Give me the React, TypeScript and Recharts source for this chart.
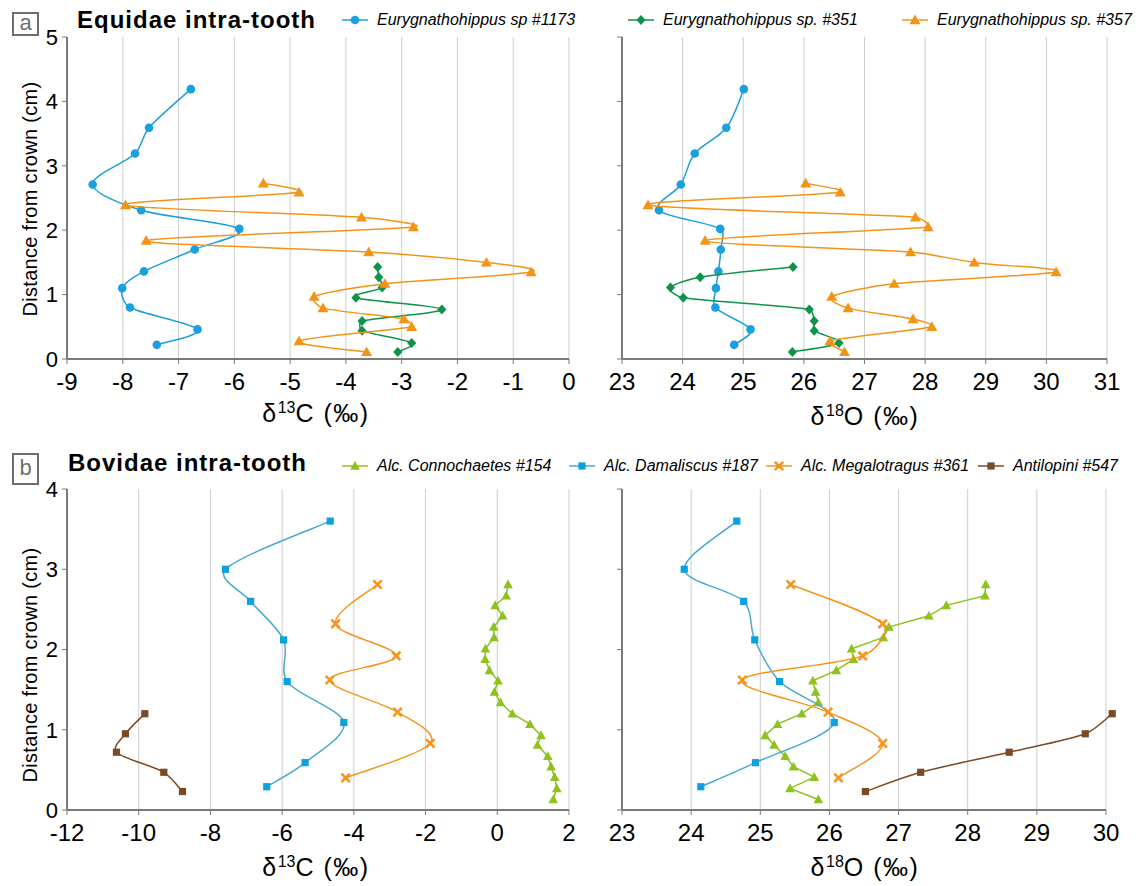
import React from "react";
import { ScatterChart, Scatter, XAxis, YAxis, CartesianGrid } from "recharts";

// Equidae: depth below crown (cm) with d13C and d18O for each sample
const eq1173Depth = [4.19, 3.59, 3.19, 2.71, 2.31, 2.02, 1.7, 1.36, 1.1, 0.8, 0.46, 0.22];
const eq1173C = [-6.78, -7.53, -7.78, -8.54, -7.67, -5.91, -6.71, -7.62, -8.01, -7.87, -6.66, -7.39];
const eq1173O = [25.01, 24.72, 24.2, 23.97, 23.61, 24.62, 24.63, 24.59, 24.55, 24.54, 25.12, 24.85];

const eq351Depth = [1.43, 1.27, 1.11, 0.95, 0.77, 0.59, 0.44, 0.25, 0.11];
const eq351C = [-3.43, -3.41, -3.35, -3.82, -2.28, -3.71, -3.71, -2.82, -3.07];
const eq351O = [25.82, 24.29, 23.8, 24.01, 26.09, 26.17, 26.17, 26.58, 25.81];

const eq357Depth = [2.73, 2.59, 2.39, 2.2, 2.05, 1.84, 1.66, 1.5, 1.35, 1.17, 0.97, 0.79, 0.62, 0.5, 0.28, 0.11];
const eq357C = [-5.48, -4.84, -7.95, -3.72, -2.79, -7.58, -3.59, -1.48, -0.68, -3.3, -4.57, -4.41, -2.96, -2.82, -4.84, -3.63];
const eq357O = [26.03, 26.6, 23.43, 27.84, 28.05, 24.37, 27.76, 28.81, 30.16, 27.49, 26.46, 26.73, 27.8, 28.11, 26.43, 26.67];

// Bovidae
const con154Depth = [2.81, 2.67, 2.55, 2.42, 2.28, 2.15, 2.01, 1.88, 1.74, 1.61, 1.47, 1.34, 1.2, 1.07, 0.93, 0.81, 0.67, 0.54, 0.41, 0.27, 0.13];
const con154C = [0.3, 0.25, -0.06, 0.15, -0.1, -0.09, -0.33, -0.34, -0.22, 0.02, -0.08, 0.09, 0.42, 0.91, 1.22, 1.12, 1.41, 1.5, 1.6, 1.66, 1.56];
const con154O = [28.26, 28.25, 27.69, 27.44, 26.86, 26.78, 26.32, 26.35, 26.1, 25.76, 25.8, 25.84, 25.6, 25.25, 25.07, 25.2, 25.36, 25.48, 25.78, 25.43, 25.84];

const dam187Depth = [3.6, 3.0, 2.6, 2.12, 1.6, 1.09, 0.59, 0.29];
const dam187C = [-4.66, -7.58, -6.88, -5.96, -5.86, -4.28, -5.36, -6.43];
const dam187O = [24.66, 23.9, 24.76, 24.92, 25.28, 26.07, 24.93, 24.14];

const meg361Depth = [2.81, 2.32, 1.92, 1.62, 1.22, 0.83, 0.4];
const meg361C = [-3.34, -4.51, -2.82, -4.67, -2.78, -1.87, -4.23];
const meg361O = [25.44, 26.77, 26.48, 24.74, 25.98, 26.77, 26.13];

const ant547Depth = [1.2, 0.95, 0.72, 0.47, 0.23];
const ant547C = [-9.83, -10.37, -10.62, -9.3, -8.78];
const ant547O = [30.09, 29.7, 28.6, 27.32, 26.52];

const equidaeTicksC = [-9, -8, -7, -6, -5, -4, -3, -2, -1, 0];
const equidaeTicksO = [23, 24, 25, 26, 27, 28, 29, 30, 31];
const equidaeTicksY = [0, 1, 2, 3, 4, 5];
const bovidaeTicksC = [-12, -10, -8, -6, -4, -2, 0, 2];
const bovidaeTicksO = [23, 24, 25, 26, 27, 28, 29, 30];
const bovidaeTicksY = [0, 1, 2, 3, 4];

const AXIS = "#7a7a7a";
const GRID = "#cdcdcd";
const FONT = '"Liberation Sans", Arial, sans-serif';

type Kind = "circle" | "diamond" | "triangle" | "smalltri" | "square" | "x";

interface Series {
  name: string;
  kind: Kind;
  color: string;
  lineColor: string;
  smooth: boolean;
  xs: number[];
  ys: number[];
}

const zip = (xs: number[], ys: number[]) => xs.map((x, i) => ({ x, y: ys[i] }));

// Excel-like smoothing: Catmull-Rom handles, clamped to a third of the segment
function smoothCurve(context: any) {
  let pts: [number, number][] = [];
  const handle = (a: [number, number], b: [number, number], d: number) => {
    const dx = (b[0] - a[0]) / 6;
    const dy = (b[1] - a[1]) / 6;
    const l = Math.hypot(dx, dy);
    const max = d / 3;
    const s = l > max && l > 0 ? max / l : 1;
    return [dx * s, dy * s];
  };
  return {
    areaStart() {},
    areaEnd() {},
    lineStart() {
      pts = [];
    },
    lineEnd() {
      if (!pts.length) return;
      context.moveTo(pts[0][0], pts[0][1]);
      for (let i = 0; i < pts.length - 1; i++) {
        const p0 = pts[i - 1] || pts[i];
        const p1 = pts[i];
        const p2 = pts[i + 1];
        const p3 = pts[i + 2] || p2;
        const d = Math.hypot(p2[0] - p1[0], p2[1] - p1[1]);
        const h1 = handle(p0, p2, d);
        const h2 = handle(p1, p3, d);
        context.bezierCurveTo(p1[0] + h1[0], p1[1] + h1[1], p2[0] - h2[0], p2[1] - h2[1], p2[0], p2[1]);
      }
    },
    point(x: number, y: number) {
      pts.push([x, y]);
    },
  };
}

function marker(kind: Kind, color: string, cx: number, cy: number) {
  switch (kind) {
    case "circle":
      return <circle cx={cx} cy={cy} r={4.3} fill={color} />;
    case "diamond":
      return <polygon points={`${cx},${cy - 5} ${cx + 4.6},${cy} ${cx},${cy + 5} ${cx - 4.6},${cy}`} fill={color} />;
    case "triangle":
      return <polygon points={`${cx},${cy - 5.5} ${cx + 5.5},${cy + 4.2} ${cx - 5.5},${cy + 4.2}`} fill={color} />;
    case "smalltri":
      return <polygon points={`${cx},${cy - 5} ${cx + 4.8},${cy + 3.8} ${cx - 4.8},${cy + 3.8}`} fill={color} />;
    case "square":
      return <rect x={cx - 3.6} y={cy - 3.6} width={7.2} height={7.2} fill={color} />;
    case "x":
      return (
        <g stroke={color} strokeWidth={2.6}>
          <line x1={cx - 4.2} y1={cy - 4.2} x2={cx + 4.2} y2={cy + 4.2} />
          <line x1={cx - 4.2} y1={cy + 4.2} x2={cx + 4.2} y2={cy - 4.2} />
        </g>
      );
  }
  return null;
}

const equidaeSeries = [
  { name: "Eurygnathohippus sp #1173", kind: "circle" as Kind, color: "#1a9fdf", lineColor: "#1a9fdf", smooth: true },
  { name: "Eurygnathohippus sp. #351", kind: "diamond" as Kind, color: "#0e944a", lineColor: "#0e944a", smooth: true },
  { name: "Eurygnathohippus sp. #357", kind: "triangle" as Kind, color: "#f39418", lineColor: "#f39418", smooth: true },
];
const bovidaeSeries = [
  { name: "Alc. Connochaetes #154", kind: "smalltri" as Kind, color: "#8dc21f", lineColor: "#8dc21f", smooth: false },
  { name: "Alc. Damaliscus #187", kind: "square" as Kind, color: "#0ba0e0", lineColor: "#48a9cc", smooth: true },
  { name: "Alc. Megalotragus #361", kind: "x" as Kind, color: "#f7941d", lineColor: "#f7941d", smooth: true },
  { name: "Antilopini #547", kind: "square" as Kind, color: "#7b4a24", lineColor: "#7b4a24", smooth: true },
];

const eqC: Series[] = [
  { ...equidaeSeries[0], xs: eq1173C, ys: eq1173Depth },
  { ...equidaeSeries[1], xs: eq351C, ys: eq351Depth },
  { ...equidaeSeries[2], xs: eq357C, ys: eq357Depth },
];
const eqO: Series[] = [
  { ...equidaeSeries[0], xs: eq1173O, ys: eq1173Depth },
  { ...equidaeSeries[1], xs: eq351O, ys: eq351Depth },
  { ...equidaeSeries[2], xs: eq357O, ys: eq357Depth },
];
const bovC: Series[] = [
  { ...bovidaeSeries[0], xs: con154C, ys: con154Depth },
  { ...bovidaeSeries[1], xs: dam187C, ys: dam187Depth },
  { ...bovidaeSeries[2], xs: meg361C, ys: meg361Depth },
  { ...bovidaeSeries[3], xs: ant547C, ys: ant547Depth },
];
const bovO: Series[] = [
  { ...bovidaeSeries[0], xs: con154O, ys: con154Depth },
  { ...bovidaeSeries[1], xs: dam187O, ys: dam187Depth },
  { ...bovidaeSeries[2], xs: meg361O, ys: meg361Depth },
  { ...bovidaeSeries[3], xs: ant547O, ys: ant547Depth },
];

interface PanelProps {
  left: number;
  top: number;
  width: number;
  height: number;
  margin: { top: number; right: number; bottom: number; left: number };
  yWidth: number;
  xTicks: number[];
  yTicks: number[];
  yLabels: boolean;
  series: Series[];
}

function Panel(p: PanelProps) {
  return (
    <div style={{ position: "absolute", left: p.left, top: p.top }}>
      <ScatterChart width={p.width} height={p.height} margin={p.margin}>
        <CartesianGrid horizontal={false} stroke={GRID} />
        <XAxis
          type="number"
          dataKey="x"
          domain={[p.xTicks[0], p.xTicks[p.xTicks.length - 1]]}
          ticks={p.xTicks}
          interval={0}
          allowDataOverflow
          height={30}
          tickSize={5}
          tickMargin={9}
          axisLine={{ stroke: AXIS, strokeWidth: 2 }}
          tickLine={{ stroke: AXIS }}
          tick={{ fontSize: 24, fill: "#000", fontFamily: FONT }}
        />
        <YAxis
          type="number"
          dataKey="y"
          domain={[p.yTicks[0], p.yTicks[p.yTicks.length - 1]]}
          ticks={p.yTicks}
          interval={0}
          allowDataOverflow
          width={p.yWidth}
          tickSize={5}
          tickMargin={4}
          axisLine={{ stroke: AXIS, strokeWidth: 2 }}
          tickLine={{ stroke: AXIS }}
          tick={{ fontSize: 22, fill: "#000", fontFamily: FONT }}
          tickFormatter={p.yLabels ? undefined : () => ""}
        />
        {p.series.map((s) => (
          <Scatter
            key={s.name}
            name={s.name}
            data={zip(s.xs, s.ys)}
            line={{ stroke: s.lineColor, strokeWidth: 1.5 }}
            lineType="joint"
            lineJointType={s.smooth ? (smoothCurve as any) : "linear"}
            shape={(props: any) => marker(s.kind, s.color, props.cx, props.cy)}
            isAnimationActive={false}
          />
        ))}
      </ScatterChart>
    </div>
  );
}

function LegendItem({ s, x, y, fontSize }: { s: { name: string; kind: Kind; color: string; lineColor: string }; x: number; y: number; fontSize: number }) {
  return (
    <div style={{ position: "absolute", left: x, top: y - 10, height: 20, display: "flex", alignItems: "center", whiteSpace: "nowrap" }}>
      <svg width={28} height={20}>
        <line x1={1} y1={10} x2={27} y2={10} stroke={s.lineColor} strokeWidth={1.5} />
        {marker(s.kind, s.color, 14, 10)}
      </svg>
      <span style={{ fontStyle: "italic", fontSize, marginLeft: 8, color: "#000" }}>{s.name}</span>
    </div>
  );
}

function XTitle({ cx, top, el }: { cx: number; top: number; el: string }) {
  const iso = el === "C" ? "13" : "18";
  return (
    <div style={{ position: "absolute", left: cx - 150, top, width: 300, textAlign: "center", fontSize: 25, lineHeight: "28px", letterSpacing: 1.5 }}>
      δ<span style={{ fontSize: 16, verticalAlign: 9, lineHeight: 0, letterSpacing: 0 }}>{iso}</span>
      {el} (‰)
    </div>
  );
}

function YTitle({ cx, cy }: { cx: number; cy: number }) {
  return (
    <div
      style={{
        position: "absolute",
        left: cx - 150,
        top: cy - 12,
        width: 300,
        height: 24,
        lineHeight: "24px",
        textAlign: "center",
        fontSize: 20,
        letterSpacing: 0.3,
        transform: "rotate(-90deg)",
      }}
    >
      Distance from crown (cm)
    </div>
  );
}

function TagBox({ letter, top, height }: { letter: string; top: number; height: number }) {
  return (
    <div
      style={{
        position: "absolute",
        left: 12,
        top,
        width: 23,
        height: height - 4,
        border: "2px solid #6e6e6e",
        color: "#6e6e6e",
        fontSize: 22,
        lineHeight: `${height - 6}px`,
        textAlign: "center",
      }}
    >
      {letter}
    </div>
  );
}

const legendXA = [341, 627, 901];
const legendXB = [341, 568, 765, 977];

export default function App() {
  return (
    <div style={{ position: "absolute", left: 0, top: 0, width: 1138, height: 886, background: "#fff", fontFamily: FONT, overflow: "hidden" }}>
      <style>{`.recharts-scatter, .recharts-layer[clip-path] { clip-path: none !important; }`}</style>

      <TagBox letter="a" top={12} height={24} />
      <div style={{ position: "absolute", left: 77, top: 6, fontSize: 24, fontWeight: "bold", lineHeight: "28px", letterSpacing: 1 }}>
        Equidae intra-tooth
      </div>
      {equidaeSeries.map((s, i) => (
        <LegendItem key={s.name} s={s} x={legendXA[i]} y={20} fontSize={16} />
      ))}

      <Panel
        left={0}
        top={0}
        width={600}
        height={440}
        margin={{ top: 37, right: 31, bottom: 51, left: 37 }}
        yWidth={30}
        xTicks={equidaeTicksC}
        yTicks={equidaeTicksY}
        yLabels
        series={eqC}
      />
      <Panel
        left={590}
        top={0}
        width={540}
        height={440}
        margin={{ top: 37, right: 23, bottom: 51, left: 22 }}
        yWidth={10}
        xTicks={equidaeTicksO}
        yTicks={equidaeTicksY}
        yLabels={false}
        series={eqO}
      />
      <YTitle cx={30} cy={199} />
      <XTitle cx={316} top={399} el="C" />
      <XTitle cx={865} top={402} el="O" />

      <TagBox letter="b" top={453} height={32} />
      <div style={{ position: "absolute", left: 68, top: 449, fontSize: 24, fontWeight: "bold", lineHeight: "28px", letterSpacing: 1 }}>
        Bovidae intra-tooth
      </div>
      {bovidaeSeries.map((s, i) => (
        <LegendItem key={s.name} s={s} x={legendXB[i]} y={466} fontSize={16} />
      ))}

      <Panel
        left={0}
        top={450}
        width={600}
        height={436}
        margin={{ top: 39, right: 31, bottom: 46, left: 37 }}
        yWidth={30}
        xTicks={bovidaeTicksC}
        yTicks={bovidaeTicksY}
        yLabels
        series={bovC}
      />
      <Panel
        left={590}
        top={450}
        width={540}
        height={436}
        margin={{ top: 39, right: 24, bottom: 46, left: 22 }}
        yWidth={10}
        xTicks={bovidaeTicksO}
        yTicks={bovidaeTicksY}
        yLabels={false}
        series={bovO}
      />
      <YTitle cx={30} cy={665} />
      <XTitle cx={316} top={853} el="C" />
      <XTitle cx={865} top={853} el="O" />
    </div>
  );
}
